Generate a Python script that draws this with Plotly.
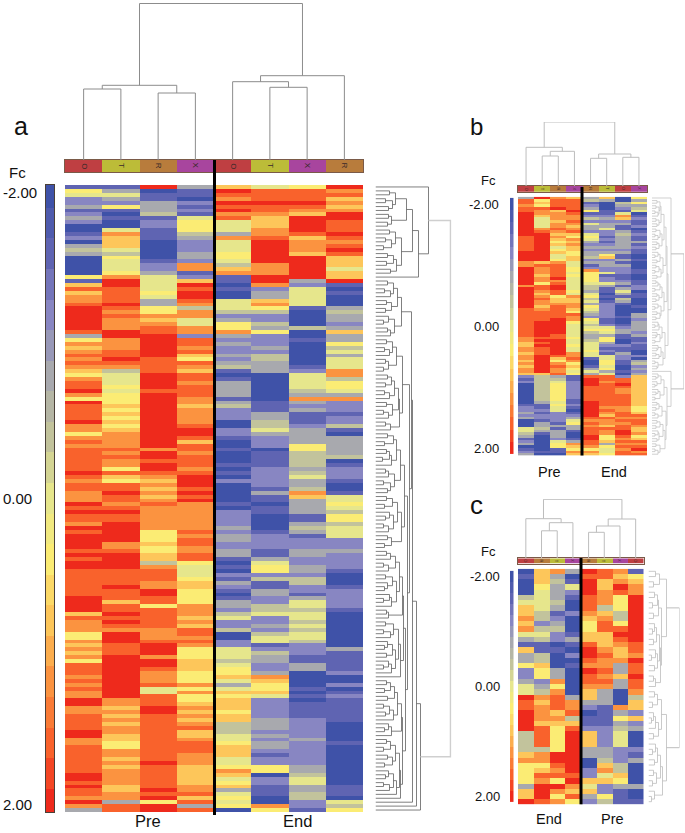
import plotly.graph_objects as go

# Cell levels, one hex digit per row: 0 = Fc -2.00 ... a = Fc +2.00 (steps of 0.40)
a_pre_O = "1652231232 0012034300 0006179788 9aaaaaa936 8789898768 99a86a9999 a886898999 999a989988 8a9a998a9a aaa9a9aa99 99999aaaa7 9888668787 8699989898 8aa889999a a889999999 aa9a998a83"
a_pre_T = "1353261010 0587775465 5568aa9999 a989888aa8 8899a98455 5656667676 7678888989 88697699a9 989a99aaaa a889aaaa99 99a999799a 9a98aaa999 aaaaaaaaaa a887878788 7766887878 8887788399"
a_pre_R = "a011333412 2111000001 2235555653 36687899aa aaaa9999aa aa9aaaaaaa aaaaaaa8aa 9aa9878787 8988888866 6766774899 988aa99699 9998889aaa 8aa9888955 999aa99999 9999999a99 9999a9a6aa"
a_pre_X = "3110212156 6643222332 88127a9aa9 8488558829 9897698799 8999887888 89aa979989 9989aaa9a9 a888888898 9988996555 6776666888 7879989866 6777666868 6678787897 7899988877 7778897939"
a_end_O = "7a98a9a895 5538555665 4781101005 5542366832 3223234101 3333134222 0022100100 0101020000 0102222323 3223310102 1321013324 5224002255 5456675357 6777677444 5567775568 7567356560"
a_end_T = "5999a99877 7889aaaaaa 888aa82337 8642243622 2324433300 0000011133 4453222011 1122222131 1011000012 2221135662 4113322445 2232455124 3322387667 5222223332 3233212266 0221110086"
a_end_X = "6999a987aa aa978887aa aaaa325555 5100004001 0000001255 5543832311 1233336644 4434533487 3333113431 2223322332 4422135545 5454554222 1133000010 1011112222 2322222233 4553344221"
a_end_R = "a897878aa9 99a989a977 7577a10100 0343323733 6453555884 6653822212 2410333334 0122210015 5654664555 2223222210 0012222210 0000000031 1111200201 2111111000 0010000000 0001110546"

b_pre_O = "399899aaaa aaaaa99999 9aaaa88aaa aaaa8aaaaa aaa9999999 9999887788 7887878872 1200000000 1223230005 5431230123"
b_pre_T = "a676988755 5589aaaaaa aaaaa79888 7886998789 88789999aa aaaa9a9a99 9aaaaaaa74 4444444443 1121221334 3100000010"
b_pre_R = "8999a78887 8898787675 6755689999 9a89aa9967 7899999aaa aaa99aaaaa a976898893 4566666665 6552222131 3332566110"
b_pre_X = "79999a9889 8789768787 7667755665 6555556587 7887698865 5555655655 8898676561 1222222211 2101235633 1001387687"
b_end_R = "3412361242 5332565323 2334231286 6665443564 5365432654 5643345556 5510013539 aaa999999a aaaaa98989 99aa998687"
b_end_T = "7300011232 3352212123 2367233225 1225311010 1222222112 5653663212 1556656359 9899999999 9898798879 8866736556"
b_end_O = "0043215872 3113433333 2311313222 1123135314 3100001001 2331100211 3221100102 99a9889999 9889989899 aa98989899"
b_end_X = "6363450121 1201211312 1100100011 0011220110 0010033233 3323112110 0203423237 7777777777 7667989987 7867989a89"

c_end_O = "0100045778 7853173362 2355a99aaa a444478666 6377a"
c_end_R = "7776555544 2454114476 6234878887 9999488679 8aaa9"
c_end_T = "8343334312 3422010003 3868999787 66666aa989 6a868"
c_end_X = "3015210020 0013102010 0000388947 9aaaaaaaa9 a8796"
c_pre_R = "a9aaa99987 66779aa98a 9987732011 2777330022 75732"
c_pre_T = "9977888478 9977789889 8983331111 2222334785 72264"
c_pre_X = "878a966644 69a9877833 7330008363 4555222447 63111"
c_pre_O = "16788aaaaa aaaa998a99 a998477272 3000213000 03001"

# Annotation strips (sample labels)
a_labels = ["O", "T", "R", "X", "O", "T", "X", "R"]
b_labels = ["O", "T", "R", "X", "R", "T", "O", "X"]
c_labels = ["O", "R", "T", "X", "R", "T", "X", "O"]

# Dendrograms: merge height between each pair of neighbouring leaves
a_top_h = [71, 74.7, 67, 156.5, 78.3, 72.7, 84.3]
b_top_h = [38.7, 30, 34.7, 64, 27.7, 32, 28.7]
c_top_h = [39.6, 27.5, 35.6, 59, 26, 32.3, 39.3]

a_row_h = [53, 14, 20, 10, 17, 13, 31, 13, 16, 12, 37, 14, 20, 10, 16, 8, 26, 12, 18, 11, 21, 15, 43, 75,
           12, 18, 9, 15, 22, 11,
           16, 10, 26, 13, 8, 19, 12, 15, 36, 11,
           17, 9, 14, 21, 10, 13, 8, 27, 12, 16,
           10, 19, 9, 14, 23, 11, 17, 8, 13, 24,
           10, 15, 34, 12, 18, 9, 21, 11, 14, 7,
           16, 25, 10, 13, 19, 8, 15, 12, 29, 11,
           17, 9, 22, 14, 10, 18, 8, 13, 26, 12,
           16, 9, 32, 11, 15, 20, 8, 13, 24, 10,
           17, 12, 9, 21, 14, 8, 16, 27, 11, 13,
           28, 10, 18, 8, 15, 23, 12, 9, 17, 11,
           20, 13, 8, 16, 25, 30, 11, 15, 9, 19,
           12, 22, 8, 14, 10, 18, 26, 13, 9, 16,
           27, 11, 15, 8, 20, 12, 17, 9, 24, 13,
           10, 18, 8, 14, 21, 25, 37, 41, 45]
b_row_h = [19, 5, 8, 4, 7, 3, 6, 9, 4, 7,
           5, 12, 4, 8, 3, 6, 10, 5, 7, 4,
           14, 6, 3, 8, 5, 11, 4, 7, 3, 9,
           5, 15, 4, 6, 8, 3, 10, 5, 7, 4,
           12, 6, 3, 9, 5, 8, 4, 16, 6, 3,
           7, 10, 5, 4, 8, 3, 13, 6, 5, 9,
           4, 7, 11, 3, 6, 5, 32, 19, 6, 4,
           9, 5, 3, 12, 6, 4, 8, 3, 15, 5,
           7, 4, 10, 3, 6, 14, 5, 8, 4, 11,
           6, 3, 7, 5, 13, 4, 8, 3, 6]
c_row_h = [7, 11, 5, 18, 6, 9, 4, 10, 5, 13,
           6, 4, 8, 5, 11, 7, 3, 9, 6, 12,
           5, 7, 31, 6, 9, 4, 13, 5, 3, 7,
           10, 5, 18, 7, 4, 9, 6, 12, 5, 8,
           4, 14, 6, 3]

legend_values = [-2.0, -1.8, -1.6, -1.4, -1.2, -1.0, -0.8, -0.6, -0.4, -0.2, 0.0,
                 0.2, 0.4, 0.6, 0.8, 1.0, 1.2, 1.4, 1.6, 1.8, 2.0]
legend_ticks = [-2.0, 0.0, 2.0]
legend_text = ["-2.00", "0.00", "2.00"]

palette = ["#3f52a8", "#5f64b2", "#8886c2", "#a8a9ae", "#c2c39c", "#e6e68c",
           "#fbec74", "#fdc65a", "#fb9340", "#f9622c", "#ee2a1c"]
label_colors = {"O": "#bf3f42", "T": "#bcbc38", "R": "#b87c3c", "X": "#a8459e"}
FONT = "Liberation Sans, Arial, sans-serif"
W, H = 685, 833

fig = go.Figure()
axis_count = 0


def fc(col):
    return [-2 + 0.4 * int(c, 16) for c in col.replace(" ", "")]


def add_axes(x0, x1, y0, y1, xr, yr):
    global axis_count
    axis_count += 1
    n = axis_count
    s = "" if n == 1 else str(n)
    common = dict(showgrid=False, zeroline=False, showticklabels=False, ticks="", fixedrange=True, showline=False)
    fig.layout["xaxis" + s] = dict(domain=[x0 / W, x1 / W], range=xr, anchor="y" + s, **common)
    fig.layout["yaxis" + s] = dict(domain=[1 - y1 / H, 1 - y0 / H], range=yr, anchor="x" + s, **common)
    return "x" + s, "y" + s


def outline(xname, yname, color, width):
    for name in ("xaxis" + xname[1:], "yaxis" + yname[1:]):
        fig.layout[name].update(showline=True, mirror=True, linecolor=color, linewidth=width)


def tree(gaps, pos):
    """Walk a dendrogram given by neighbour merge heights; returns (height, a, ha, b, hb) nodes."""
    nodes = []

    def walk(lo, hi):
        if lo == hi:
            return pos[lo], 0
        k = max(range(lo, hi), key=lambda i: gaps[i])
        pa, ha = walk(lo, k)
        pb, hb = walk(k + 1, hi)
        nodes.append((gaps[k], pa, ha, pb, hb))
        return (pa + pb) / 2, gaps[k]

    walk(0, len(gaps))
    return nodes


def dendro(gaps, xa, ya, vertical, color, width, root_color=None, root_width=None):
    pos = [i + 0.5 for i in range(len(gaps) + 1)]
    nodes = tree(gaps, pos)
    top = max(gaps)
    groups = {False: ([], []), True: ([], [])}
    for h, pa, ha, pb, hb in nodes:
        hs = [ha, h, h, hb, None]
        ps = [pa, pa, pb, pb, None]
        g = groups[root_color is not None and h == top]
        if vertical:
            g[0].extend(ps)
            g[1].extend(hs)
        else:
            g[0].extend(hs)
            g[1].extend(ps)
    fig.add_trace(go.Scatter(x=groups[False][0], y=groups[False][1], mode="lines", xaxis=xa, yaxis=ya,
                             line=dict(color=color, width=width), hoverinfo="skip", showlegend=False))
    if root_color:
        fig.add_trace(go.Scatter(x=groups[True][0], y=groups[True][1], mode="lines", xaxis=xa, yaxis=ya,
                                 line=dict(color=root_color, width=root_width), hoverinfo="skip", showlegend=False))


def text(s, x, y, size, anchor="center", color="#111"):
    fig.add_annotation(text=s, x=x / W, y=1 - y / H, xref="paper", yref="paper", showarrow=False, xanchor=anchor,
                       yanchor="middle", font=dict(family=FONT, size=size, color=color))


def panel(cols, labels, top_h, row_h, box, strip, top_y, row_x, bar_x, bar_range, divider, tick_x, tick_anchor,
          tick_size, letter_size, tree_col, row_col, root_col, root_w, bar_edge):
    x0, x1, y0, y1 = box
    z_cols = [fc(c) for c in cols]
    n = len(z_cols[0])
    for c in z_cols:
        assert len(c) == n, (len(c), n)
    z = [[col[r] for col in z_cols] for r in range(n)]
    colorscale = [[i / 10, c] for i, c in enumerate(palette)]
    xa, ya = add_axes(x0, x1, y0, y1, [0, 8], [n, 0])
    fig.add_trace(go.Heatmap(z=z, x=[i + 0.5 for i in range(8)], y=[r + 0.5 for r in range(n)], zmin=-2, zmax=2,
                             colorscale=colorscale, showscale=False, xaxis=xa, yaxis=ya, hoverinfo="skip"))
    # sample strip
    xs, ys = add_axes(x0, x1, strip[0], strip[1], [0, 8], [0, 1])
    keys = list(label_colors)
    steps = []
    for i, k in enumerate(keys):
        steps += [[i / 4, label_colors[k]], [(i + 1) / 4, label_colors[k]]]
    fig.add_trace(go.Heatmap(z=[[keys.index(l) + 0.5 for l in labels]], x=[i + 0.5 for i in range(8)], y=[0.5],
                             zmin=0, zmax=4, colorscale=steps, showscale=False, xaxis=xs, yaxis=ys, hoverinfo="skip"))
    outline(xs, ys, "#7a5a48", 0.7)
    for i, l in enumerate(labels):
        fig.add_annotation(text=l, x=i + 0.5, y=0.5, xref=xs, yref=ys, showarrow=False, textangle=90,
                           font=dict(family=FONT, size=letter_size, color="#3a2a2a"))
    # sample dendrogram
    xt, yt = add_axes(x0, x1, top_y, strip[0], [0, 8], [0, strip[0] - top_y])
    dendro(top_h, xt, yt, True, tree_col, 1)
    # row dendrogram
    xr, yr = add_axes(row_x[0], row_x[1], y0, y1, [0, row_x[1] - row_x[0]], [n, 0])
    dendro(row_h, xr, yr, False, row_col, 0.8, root_col, root_w)
    # Fc legend strip
    xb, yb = add_axes(bar_x[0], bar_x[1], y0, y1, [0, 1], bar_range)
    steps_z = [[v] for v in legend_values]
    fig.add_trace(go.Heatmap(z=steps_z, x=[0.5], y=legend_values, zmin=-2, zmax=2, colorscale=colorscale,
                             showscale=False, xaxis=xb, yaxis=yb, hoverinfo="skip"))
    if bar_edge:
        outline(xb, yb, bar_edge, 0.8)
    for v, s in zip(legend_ticks, legend_text):
        fig.add_annotation(text=s, x=tick_x / W, y=v, xref="paper", yref=yb, showarrow=False, xanchor=tick_anchor,
                           font=dict(family=FONT, size=tick_size, color="#111"))
    # divider
    fig.add_shape(type="line", xref="paper", yref="paper", x0=divider[0] / W, x1=divider[0] / W,
                  y0=1 - divider[1] / H, y1=1 - divider[2] / H, line=dict(color="#000", width=3))


panel([a_pre_O, a_pre_T, a_pre_R, a_pre_X, a_end_O, a_end_T, a_end_X, a_end_R], a_labels, a_top_h, a_row_h,
      (65, 363, 185, 812), (160, 172), 3, (375.5, 451.5), (46, 54), [2.05, -2.05], (214.5, 160, 815), 1, "left",
      15, 8, "#8c8c8c", "#5f5f5f", "#cfcfcf", 1.5, "#4a4038")
panel([b_pre_O, b_pre_T, b_pre_R, b_pre_X, b_end_R, b_end_T, b_end_O, b_end_X], b_labels, b_top_h, b_row_h,
      (518, 647, 196.7, 455.5), (186, 191.7), 122, (652, 684), (510, 513.5), [2.12, -2.12], (582, 187, 455.5), 501, "right",
      13, 4, "#bdbdbd", "#c4c4c4", "#bdbdbd", 1, None)
panel([c_end_O, c_end_R, c_end_T, c_end_X, c_pre_R, c_pre_T, c_pre_X, c_pre_O], c_labels, c_top_h, c_row_h,
      (518, 643.5, 568.7, 804.3), (558.3, 563.7), 499, (648.5, 679.5), (510, 513.5), [2.14, -2.14], (581, 558, 804.3), 502, "right",
      13, 4, "#bdbdbd", "#bdbdbd", "#bdbdbd", 1, None)

text("a", 12, 126, 25, "left")
text("b", 468, 127, 24, "left")
text("c", 468, 505, 26, "left")
text("Fc", 17, 173, 15)
text("Fc", 488, 181, 13)
text("Fc", 488, 551, 13)
text("Pre", 148, 821, 16.5)
text("End", 297, 821, 16.5)
text("Pre", 549, 472, 14.5)
text("End", 614, 472, 14.5)
text("End", 549, 819, 14.5)
text("Pre", 612, 819, 14.5)

fig.update_layout(width=W, height=H, margin=dict(l=0, r=0, t=0, b=0), autosize=False,
                  paper_bgcolor="white", plot_bgcolor="white", showlegend=False)
fig.write_html("out.html", include_plotlyjs=True, config={"displayModeBar": False},
               post_script="document.body.style.margin='0';document.body.style.overflow='hidden';")
